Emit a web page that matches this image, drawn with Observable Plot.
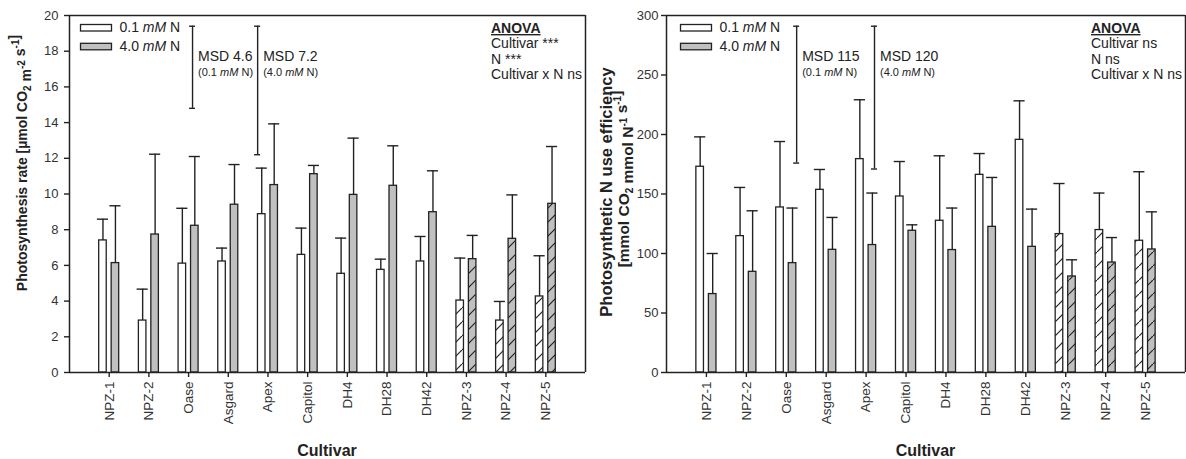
<!DOCTYPE html>
<html><head><meta charset="utf-8">
<script src="https://cdn.jsdelivr.net/npm/d3@7"></script>
<script src="https://cdn.jsdelivr.net/npm/@observablehq/plot@0.6"></script>
<style>
body{margin:0;background:#fff;}
#wrap{display:flex;width:1186px;height:459px;font-family:"Liberation Sans",Arial,sans-serif;}
#wrap svg{overflow:visible;}
</style></head><body>
<svg width="0" height="0" style="position:absolute">
<defs>
<pattern id="hatchWhite" patternUnits="userSpaceOnUse" width="14" height="14">
<rect width="14" height="14" fill="#ffffff"/>
<path d="M-2,16 L16,-2" stroke="#222" stroke-width="1.2"/>
</pattern>
<pattern id="hatchGray" patternUnits="userSpaceOnUse" width="14" height="14">
<rect width="14" height="14" fill="#c0c0c0"/>
<path d="M-2,16 L16,-2" stroke="#222" stroke-width="1.2"/>
</pattern>
</defs></svg>
<div id="wrap"></div>
<script>
// ---------- data ----------
const cultivars = ["NPZ-1","NPZ-2","Oase","Asgard","Apex","Capitol","DH4","DH28","DH42","NPZ-3","NPZ-4","NPZ-5"];
const hatched = ["NPZ-3","NPZ-4","NPZ-5"];
const seriesNames = ["0.1 mM N","4.0 mM N"];

// Photosynthesis rate (µmol CO2 m-2 s-1): mean and upper end of error bar
const rateLow       = [7.4, 2.91, 6.1, 6.22, 8.87, 6.59, 5.53, 5.75, 6.22, 4.03, 2.91, 4.26];
const rateLowUpper  = [8.59, 4.67, 9.2, 6.97, 11.45, 8.09, 7.53, 6.35, 7.62, 6.41, 3.98, 6.54];
const rateHigh      = [6.13, 7.73, 8.22, 9.4, 10.5, 11.11, 9.95, 10.46, 8.98, 6.35, 7.49, 9.45];
const rateHighUpper = [9.34, 12.23, 12.1, 11.65, 13.93, 11.6, 13.13, 12.7, 11.3, 7.68, 9.95, 12.66];
const rateTicks = [0,2,4,6,8,10,12,14,16,18,20];
const rateMSD = [
  {value: 4.6, top: 19.4, pos: 3.10, label: "MSD 4.6", level: "0.1"},
  {value: 7.2, top: 19.4, pos: 4.74, label: "MSD 7.2", level: "4.0"}
];
const rateAnova = ["Cultivar ***", "N ***", "Cultivar x N ns"];

// Photosynthetic N use efficiency (mmol CO2 mmol N-1 s-1)
const pnueLow       = [172.9, 114.6, 138.7, 153.5, 179.3, 147.9, 127.5, 166.1, 195.5, 116.3, 119.7, 110.7];
const pnueLowUpper  = [198, 155.5, 194.1, 170.6, 229.2, 177.3, 182.1, 184, 228.3, 158.8, 150.8, 168.7];
const pnueHigh      = [65.9, 84.6, 91.9, 103.1, 107.1, 119.1, 102.9, 122.4, 105.6, 80.7, 92.4, 103.4];
const pnueHighUpper = [100, 135.9, 138.2, 130.3, 150.8, 124.1, 138.2, 163.9, 137.3, 94.7, 113.4, 135];
const pnueTicks = [0,50,100,150,200,250,300];
const pnueMSD = [
  {value: 115, top: 291, pos: 3.26, label: "MSD 115", level: "0.1"},
  {value: 120, top: 291, pos: 5.21, label: "MSD 120", level: "4.0"}
];
const pnueAnova = ["Cultivar ns", "N ns", "Cultivar x N ns"];

// ---------- drawing ----------
const INK = "#222";
function makeChart(cfg) {
  const rows = cultivars.map((c, i) => ({
    c, pos: i + 1, low: cfg.low[i], lowUp: cfg.lowUp[i], high: cfg.high[i], highUp: cfg.highUp[i],
    hatch: hatched.includes(c)
  }));
  const bw = 0.19, gh = 0.062, cap = 0.14, mcap = 0.075;
  const lc = d => d.pos - gh - bw / 2, hc = d => d.pos + gh + bw / 2;
  const ymax = cfg.ticks[cfg.ticks.length - 1];
  const plot = Plot.plot({
    width: 593, height: 459,
    marginTop: 15, marginBottom: 87, marginLeft: cfg.ml, marginRight: cfg.mr,
    style: {fontFamily: '"Liberation Sans", Arial, sans-serif', color: INK, background: "transparent", overflow: "visible"},
    x: {type: "linear", domain: [0, 13]},
    y: {domain: [0, ymax]},
    marks: [
      Plot.rectY(rows.filter(d => !d.hatch), {x1: d => d.pos - gh - bw, x2: d => d.pos - gh, y1: 0, y2: "low", fill: "#ffffff", stroke: INK, strokeWidth: 1.3}),
      Plot.rectY(rows.filter(d => d.hatch), {x1: d => d.pos - gh - bw, x2: d => d.pos - gh, y1: 0, y2: "low", fill: "url(#hatchWhite)", stroke: INK, strokeWidth: 1.3}),
      Plot.rectY(rows.filter(d => !d.hatch), {x1: d => d.pos + gh, x2: d => d.pos + gh + bw, y1: 0, y2: "high", fill: "#c0c0c0", stroke: INK, strokeWidth: 1.3}),
      Plot.rectY(rows.filter(d => d.hatch), {x1: d => d.pos + gh, x2: d => d.pos + gh + bw, y1: 0, y2: "high", fill: "url(#hatchGray)", stroke: INK, strokeWidth: 1.3}),
      Plot.ruleX(rows, {x: lc, y1: "low", y2: "lowUp", stroke: INK, strokeWidth: 1.4}),
      Plot.ruleY(rows, {y: "lowUp", x1: d => lc(d) - cap, x2: d => lc(d) + cap, stroke: INK, strokeWidth: 1.4}),
      Plot.ruleX(rows, {x: hc, y1: "high", y2: "highUp", stroke: INK, strokeWidth: 1.4}),
      Plot.ruleY(rows, {y: "highUp", x1: d => hc(d) - cap, x2: d => hc(d) + cap, stroke: INK, strokeWidth: 1.4}),
      // MSD bars
      Plot.ruleX(cfg.msd, {x: "pos", y1: d => d.top - d.value, y2: "top", stroke: INK, strokeWidth: 1.4}),
      Plot.ruleY(cfg.msd, {y: "top", x1: d => d.pos - mcap, x2: d => d.pos + mcap, stroke: INK, strokeWidth: 1.4}),
      Plot.ruleY(cfg.msd, {y: d => d.top - d.value, x1: d => d.pos - mcap, x2: d => d.pos + mcap, stroke: INK, strokeWidth: 1.4}),
      // frame
      Plot.ruleX([0], {stroke: INK, strokeWidth: 1.5}),
      Plot.ruleX([13], {stroke: INK, strokeWidth: 1.5}),
      Plot.ruleY([0], {stroke: INK, strokeWidth: 1.5}),
      Plot.ruleY([ymax], {stroke: INK, strokeWidth: 1.5}),
      Plot.axisY({ticks: cfg.ticks, tickSize: 5, tickPadding: cfg.tp, fontSize: 13, label: null, strokeWidth: 1.4, fill: "#333"}),
      Plot.axisX({ticks: d3.range(1, 13), tickFormat: d => cultivars[d - 1], tickRotate: -90, tickSize: 5, tickPadding: 4, fontSize: 13.5, label: null, strokeWidth: 1.4, fill: "#333"})
    ]
  });
  const svg = d3.select(plot);
  const xs = plot.scale("x");
  const left = xs.apply(0), right = xs.apply(13);
  const g = svg.append("g").attr("fill", "#222").attr("text-anchor", "start")
    .attr("font-family", '"Liberation Sans", Arial, sans-serif');

  // legend
  const lx = left + cfg.legDx;
  [["#ffffff", 24.5, 32], ["#c0c0c0", 43.3, 51]].forEach(([f, by, ty], i) => {
    g.append("rect").attr("x", lx).attr("y", by).attr("width", 31).attr("height", 6.5)
      .attr("fill", f).attr("stroke", INK).attr("stroke-width", 1.3);
    const t = g.append("text").attr("x", lx + 39).attr("y", ty).attr("font-size", 14);
    const [num, unit, el] = seriesNames[i].split(" ");
    t.append("tspan").text(num + " ");
    t.append("tspan").attr("font-style", "italic").text(unit);
    t.append("tspan").text(" " + el);
  });

  // MSD labels
  cfg.msd.forEach(m => {
    const x = xs.apply(m.pos) + 6;
    g.append("text").attr("x", x).attr("y", 61).attr("font-size", 14).text(m.label);
    const t = g.append("text").attr("x", x).attr("y", 75.5).attr("font-size", 11);
    t.append("tspan").text("(" + m.level + " ");
    t.append("tspan").attr("font-style", "italic").text("mM");
    t.append("tspan").text(" N)");
  });

  // ANOVA
  const ax = right - 94;
  g.append("text").attr("x", ax).attr("y", 33).attr("font-size", 14).attr("font-weight", "bold")
    .attr("text-decoration", "underline").text("ANOVA");
  cfg.anova.forEach((s, i) => g.append("text").attr("x", ax).attr("y", 48.3 + i * 15.4).attr("font-size", 14).text(s));

  // x title
  g.append("text").attr("x", (left + right) / 2).attr("y", 456).attr("text-anchor", "middle")
    .attr("font-size", 16).attr("font-weight", "bold").text("Cultivar");

  // y title(s)
  cfg.ylab.forEach(line => {
    const t = g.append("text").attr("transform", `translate(${line.x},${line.y}) rotate(-90)`)
      .attr("text-anchor", "middle").attr("font-size", line.fs).attr("font-weight", "bold");
    line.parts.forEach(p => {
      if (typeof p === "string") t.append("tspan").text(p);
      else if (p.sub) { t.append("tspan").attr("dy", 4).attr("font-size", 10).text(p.sub); t.append("tspan").attr("dy", -4).text(""); }
      else if (p.sup) { t.append("tspan").attr("dy", -6).attr("font-size", 10).text(p.sup); t.append("tspan").attr("dy", 6).text(""); }
    });
  });
  return plot;
}

const wrap = document.getElementById("wrap");
wrap.append(makeChart({
  low: rateLow, lowUp: rateLowUpper, high: rateHigh, highUp: rateHighUpper,
  ticks: rateTicks, msd: rateMSD, anova: rateAnova, ml: 69, mr: 8, tp: 6, legDx: 11.5,
  ylab: [{x: 27, y: 163, fs: 14, parts: ["Photosynthesis rate [µmol CO", {sub: "2"}, " m", {sup: "-2"}, " s", {sup: "-1"}, "]"]}]
}));
wrap.append(makeChart({
  low: pnueLow, lowUp: pnueLowUpper, high: pnueHigh, highUp: pnueHighUpper,
  ticks: pnueTicks, msd: pnueMSD, anova: pnueAnova, ml: 73, mr: 1, tp: 3, legDx: 14.5,
  ylab: [
    {x: 19, y: 192, fs: 16.5, parts: ["Photosynthetic N use efficiency"]},
    {x: 36, y: 179, fs: 15.5, parts: ["[mmol CO", {sub: "2"}, " mmol N", {sup: "-1"}, " s", {sup: "-1"}, "]"]}
  ]
}));
</script>
</body></html>
